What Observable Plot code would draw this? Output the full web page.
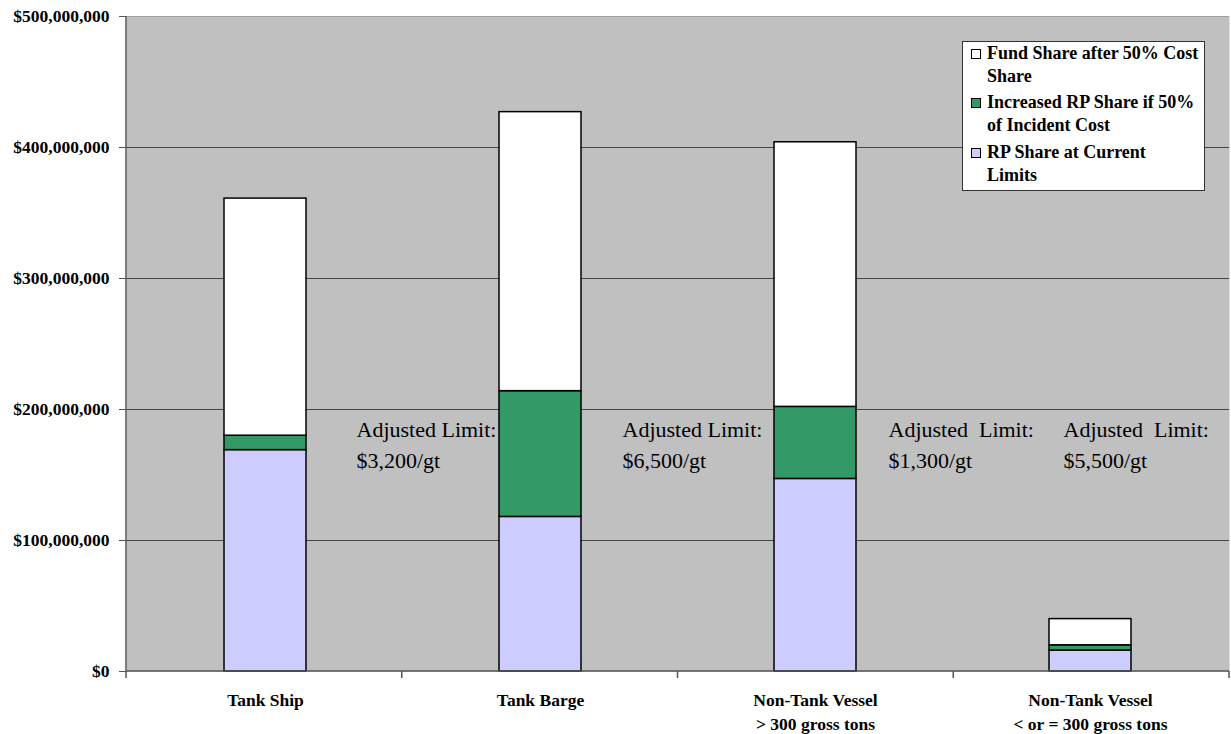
<!DOCTYPE html>
<html>
<head>
<meta charset="utf-8">
<script src="https://cdn.jsdelivr.net/npm/d3@7"></script>
<script src="https://cdn.jsdelivr.net/npm/@observablehq/plot@0.6"></script>
<style>
  body { margin: 0; background: #fff; }
  #wrap { position: relative; width: 1231px; height: 734px; font-family: "Liberation Serif", "Times New Roman", serif; }
  #legend { position: absolute; left: 962px; top: 41px; width: 241px; height: 148px; background: #fff; border: 1px solid #333; }
  .item { position: absolute; left: 0; }
  .sw { position: absolute; left: 8px; top: 7px; width: 8px; height: 8px; border: 1px solid #000; }
  .lab { position: absolute; left: 24px; top: 0; white-space: pre; font-weight: bold; font-size: 18px; line-height: 23px; color: #000; font-family: "Liberation Serif", "Times New Roman", serif; }
</style>
</head>
<body>
<div id="wrap"><div id="legend"></div></div>
<script>
// ---- data ----
const categories = ["Tank Ship", "Tank Barge", "Non-Tank Vessel\n> 300 gross tons", "Non-Tank Vessel\n< or = 300 gross tons"];
const seriesNames = ["RP Share at Current Limits", "Increased RP Share if 50% of Incident Cost", "Fund Share after 50% Cost Share"];
const legendLabels = ["RP Share at Current\nLimits", "Increased RP Share if 50%\nof Incident Cost", "Fund Share after 50% Cost\nShare"];
const seriesColors = ["#ccccff", "#339966", "#ffffff"];
const rpCurrent = [169e6, 118e6, 147e6, 16e6];
const rpIncrease = [11e6, 96e6, 55e6, 4e6];
const fundShare = [181e6, 213e6, 202e6, 20e6];
const yTicks = [0, 100e6, 200e6, 300e6, 400e6, 500e6];
const annotations = ["Adjusted Limit:\n$3,200/gt", "Adjusted Limit:\n$6,500/gt", "Adjusted  Limit:\n$1,300/gt", "Adjusted  Limit:\n$5,500/gt"];
const annotationValue = 175e6;

// ---- table ----
const seriesValues = [rpCurrent, rpIncrease, fundShare];
const rows = [];
categories.forEach((c, i) => {
  seriesValues.forEach((vals, s) => rows.push({category: c, series: seriesNames[s], value: vals[i]}));
});

const W = 1231, H = 734, mL = 126, mR = 2, mT = 16, mB = 63;
const serif = "Liberation Serif, Times New Roman, serif";

function axisLinesAndTicks(index, scales, values, dim) {
  const g = d3.create("svg:g");
  const n = categories.length;
  const step = (dim.width - dim.marginLeft - dim.marginRight) / n;
  const y0 = dim.height - dim.marginBottom;
  const x0 = dim.marginLeft;
  g.append("line").attr("x1", x0).attr("x2", dim.width - dim.marginRight).attr("y1", y0).attr("y2", y0)
    .attr("stroke", "#555").attr("stroke-width", 1.5);
  g.append("line").attr("x1", x0).attr("x2", x0).attr("y1", dim.marginTop).attr("y2", y0)
    .attr("stroke", "#555").attr("stroke-width", 1.5);
  for (let i = 0; i <= n; i++) {
    const x = x0 + i * step;
    g.append("line").attr("x1", x).attr("x2", x).attr("y1", y0).attr("y2", y0 + 7)
      .attr("stroke", "#555").attr("stroke-width", 1.5);
  }
  return g.node();
}

const annotationOffsets = [91, 82, 73, -27];

const plot = Plot.plot({
  width: W, height: H,
  marginLeft: mL, marginRight: mR, marginTop: mT, marginBottom: mB,
  style: {fontFamily: serif, background: "transparent", color: "#000", overflow: "visible"},
  x: {domain: categories, paddingInner: 0.703, paddingOuter: 0.3515, label: null},
  y: {domain: [0, 500e6], label: null},
  color: {domain: seriesNames, range: seriesColors},
  marks: [
    Plot.frame({fill: "#c0c0c0", stroke: null}),
    Plot.ruleY(yTicks.slice(1, -1), {stroke: "#444", strokeWidth: 1}),
    Plot.ruleY(yTicks.slice(-1), {stroke: "#a0a0a0", strokeWidth: 1}),
    Plot.barY(rows, {x: "category", y: "value", fill: "series", stroke: "#000", strokeWidth: 1.5}),
    ...annotations.map((a, i) => Plot.text([a], {
      x: () => categories[i], y: () => annotationValue, text: d => d,
      textAnchor: "start", lineAnchor: "middle", dx: annotationOffsets[i],
      fontSize: 22, lineHeight: 1.45, fill: "#000", fontFamily: serif
    })),
    Plot.axisY({ticks: yTicks, tickFormat: d => "$" + d3.format(",")(d), tickSize: 7, tickPadding: 10,
      fontSize: 17.5, fontWeight: "bold", stroke: "#555", fill: "#000", label: null, fontFamily: serif}),
    Plot.axisX({tickSize: 0, tickPadding: 18, fontSize: 17.5, fontWeight: "bold", lineHeight: 1.35, fill: "#000", label: null, fontFamily: serif}),
    axisLinesAndTicks
  ]
});
document.getElementById("wrap").prepend(plot);

// ---- legend ----
const legend = d3.select("#legend");
const tops = [0, 49, 99];
[2, 1, 0].forEach((s, k) => {
  const item = legend.append("div").attr("class", "item").style("top", tops[k] + "px");
  item.append("div").attr("class", "sw").style("background", seriesColors[s]);
  item.append("div").attr("class", "lab").text(legendLabels[s]);
});
</script>
</body>
</html>
